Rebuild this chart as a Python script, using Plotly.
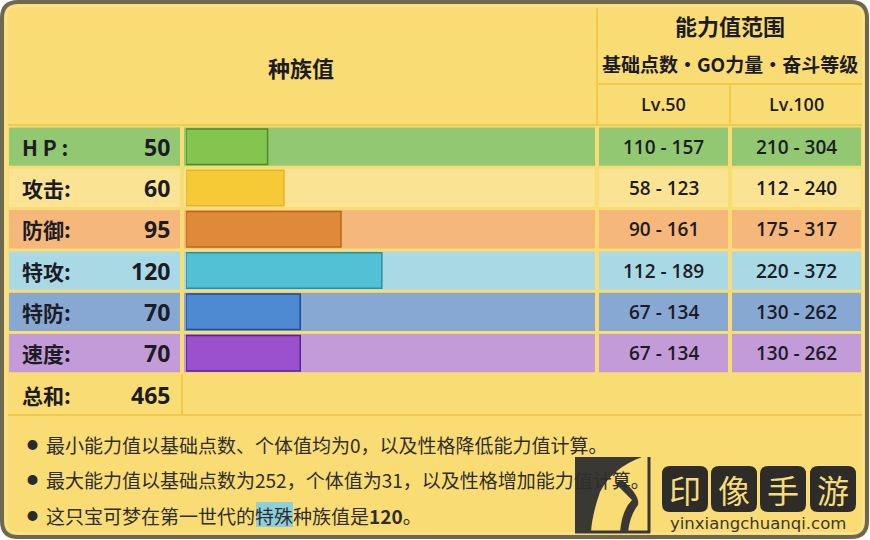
import plotly.graph_objects as go

W, H = 870, 540

# ---------------- data ----------------
stat_labels = ["H P :", "攻击:", "防御:", "特攻:", "特防:", "速度:"]
stat_keys = ["HP", "攻击", "防御", "特攻", "特防", "速度"]
base_stats = [50, 60, 95, 120, 70, 70]
total_label = "总和:"
total_value = 465
lv50_ranges = ["110 - 157", "58 - 123", "90 - 161", "112 - 189", "67 - 134", "67 - 134"]
lv100_ranges = ["210 - 304", "112 - 240", "175 - 317", "220 - 372", "130 - 262", "130 - 262"]
header_left = "种族值"
header_right = "能力值范围"
header_sub = "基础点数・GO力量・奋斗等级"
level_headers = ["Lv.50", "Lv.100"]
notes = [
    "最小能力值以基础点数、个体值均为0，以及性格降低能力值计算。",
    "最大能力值以基础点数为252，个体值为31，以及性格增加能力值计算。",
    "这只宝可梦在第一世代的特殊种族值是<b>120</b>。",
]

# ---------------- style ----------------
row_bg = ["#93c872", "#fbe394", "#f6b87a", "#a8d9e4", "#87a8d3", "#c39bd9"]
bar_fill = ["#84c54f", "#f6ca36", "#de8a3a", "#52c1d6", "#4d8ad2", "#9b50cd"]
bar_line = ["#4a8c26", "#e2b426", "#b8681e", "#2b8fa3", "#1f4e96", "#55248c"]
BG = "#f9dc74"
LINE = "#f1ca4c"
FONT = "Noto Sans CJK SC"
NUMFONT = "Open Sans"
TXT = "#1c1c24"


def X(px):
    return px / W


def Y(py):
    return 1 - py / H


shapes = []
annotations = []


def rect(x0, y0, x1, y1, fill, line=None, lw=0, layer="below"):
    shapes.append(dict(type="rect", xref="paper", yref="paper",
                       x0=X(x0), x1=X(x1), y0=Y(y1), y1=Y(y0),
                       fillcolor=fill, line=dict(color=line or fill, width=lw),
                       layer=layer))


def hline(x0, x1, y, color=LINE, w=2):
    shapes.append(dict(type="line", xref="paper", yref="paper",
                       x0=X(x0), x1=X(x1), y0=Y(y), y1=Y(y),
                       line=dict(color=color, width=w), layer="below"))


def vline(x, y0, y1, color=LINE, w=2):
    shapes.append(dict(type="line", xref="paper", yref="paper",
                       x0=X(x), x1=X(x), y0=Y(y0), y1=Y(y1),
                       line=dict(color=color, width=w), layer="below"))


def text(x, y, s, size, anchor="center", color=TXT, weight="bold", family=FONT):
    annotations.append(dict(xref="paper", yref="paper", x=X(x), y=Y(y),
                            text=s, showarrow=False,
                            xanchor=anchor, yanchor="middle",
                            font=dict(family=family, size=size, color=color, weight=weight)))


def rpath(x0, y0, x1, y1, r):
    def p(x, y):
        return f"{X(x)},{Y(y)}"
    return (f"M {p(x0+r, y0)} L {p(x1-r, y0)} Q {p(x1, y0)} {p(x1, y0+r)} "
            f"L {p(x1, y1-r)} Q {p(x1, y1)} {p(x1-r, y1)} L {p(x0+r, y1)} "
            f"Q {p(x0, y1)} {p(x0, y1-r)} L {p(x0, y0+r)} Q {p(x0, y0)} {p(x0+r, y0)} Z")


# outer frame
shapes.append(dict(type="path", xref="paper", yref="paper", path=rpath(2, 2, 867, 537, 16),
                   fillcolor=BG, line=dict(color="#6f6851", width=4), layer="below"))
shapes.append(dict(type="path", xref="paper", yref="paper", path=rpath(6, 6, 863, 533, 12),
                   fillcolor=BG, line=dict(color="#fbe38c", width=2), layer="below"))

# header lines
vline(597, 8, 126)
hline(597, 862, 84)
vline(730, 84, 126)
hline(8, 862, 125)

row_tops = [126, 167.3, 208.6, 249.9, 291.2, 332.5, 373.8]
for i in range(6):
    t, b = row_tops[i] + 1.5, row_tops[i + 1] - 1.5
    rect(9, t, 180, b, row_bg[i])
    rect(184, t, 595, b, row_bg[i])
    rect(599, t, 728, b, row_bg[i])
    rect(732, t, 861, b, row_bg[i])
    cy = (row_tops[i] + row_tops[i + 1]) / 2
    text(20, cy, stat_labels[i], 21, "left")
    text(172, cy, str(base_stats[i]), 23, "right", family=NUMFONT)
    text(663.5, cy, lv50_ranges[i], 19, "center", weight=600, family=NUMFONT)
    text(796.5, cy, lv100_ranges[i], 19, "center", weight=600, family=NUMFONT)

# total row
vline(182, 374, 414)
hline(8, 862, 415)
text(20, 394.5, total_label, 21, "left")
text(172, 394.5, str(total_value), 23, "right", family=NUMFONT)

# headers
text(301, 67, header_left, 22)
text(730, 25, header_right, 22)
text(730, 64, header_sub, 19)
text(663.5, 104, level_headers[0], 18, weight=600, family=NUMFONT)
text(796.5, 104, level_headers[1], 18, weight=600, family=NUMFONT)

# notes
note_y = [444, 479, 515]
rect(256, 502, 293, 527, "#8ecfdc")
for yy, s in zip(note_y, notes):
    text(32, yy, "●", 11, "center", color="#2a2a2a", weight="normal")
    text(44, yy, s, 19, "left", color="#2e2e2e", weight="normal")

# watermark (approximation)
DARK = "#3a3835"
shapes.append(dict(type="path", xref="paper", yref="paper",
                   path=(f"M {X(575)},{Y(457)} L {X(642)},{Y(457)} Q {X(612)},{Y(468)} {X(600)},{Y(492)} "
                         f"Q {X(592)},{Y(515)} {X(591)},{Y(532)} L {X(575)},{Y(532)} Z"),
                   fillcolor=DARK, line=dict(width=0), layer="above"))
shapes.append(dict(type="path", xref="paper", yref="paper",
                   path=(f"M {X(620)},{Y(532)} Q {X(622)},{Y(510)} {X(632)},{Y(500)} "
                         f"Q {X(622)},{Y(490)} {X(615)},{Y(483)} L {X(622)},{Y(480)} Q {X(640)},{Y(495)} {X(638)},{Y(505)} "
                         f"Q {X(630)},{Y(515)} {X(628)},{Y(532)} Z"),
                   fillcolor=DARK, line=dict(width=0), layer="above"))
shapes.append(dict(type="line", xref="paper", yref="paper", x0=X(649), x1=X(649), y0=Y(457), y1=Y(533),
                   line=dict(color=DARK, width=3), layer="above"))
shapes.append(dict(type="line", xref="paper", yref="paper", x0=X(575), x1=X(650), y0=Y(532), y1=Y(532),
                   line=dict(color=DARK, width=3), layer="above"))
for cx, ch in zip([685, 734, 783, 833], ["印", "像", "手", "游"]):
    shapes.append(dict(type="path", xref="paper", yref="paper", path=rpath(cx - 23, 466, cx + 23, 512, 8),
                       fillcolor="#2e2c28", line=dict(width=0), layer="above"))
    text(cx, 489, ch, 32, "center", color="#f7dc7a", weight="normal")
text(758, 523, "yinxiangchuanqi.com", 16.5, "center", color=DARK, weight="normal",
     family="DejaVu Sans")

# ---------------- bars ----------------
fig = go.Figure()
fig.add_trace(go.Bar(
    x=base_stats, y=stat_keys, orientation="h",
    marker=dict(color=bar_fill, line=dict(color=bar_line, width=1.5)),
    width=0.86, hoverinfo="x+y", showlegend=False,
))

fig.update_layout(
    width=W, height=H,
    margin=dict(l=0, r=0, t=0, b=0),
    paper_bgcolor="white", plot_bgcolor="rgba(0,0,0,0)",
    xaxis=dict(domain=[X(186), X(594)], range=[0, 250], visible=False, fixedrange=True),
    yaxis=dict(domain=[Y(row_tops[-1]), Y(row_tops[0])], autorange="reversed",
               visible=False, fixedrange=True),
    shapes=shapes, annotations=annotations,
    bargap=0.14, showlegend=False,
)

fig.write_html("out.html", config={"displayModeBar": False},
               post_script="document.body.style.margin='0px';document.body.style.overflow='hidden';")
